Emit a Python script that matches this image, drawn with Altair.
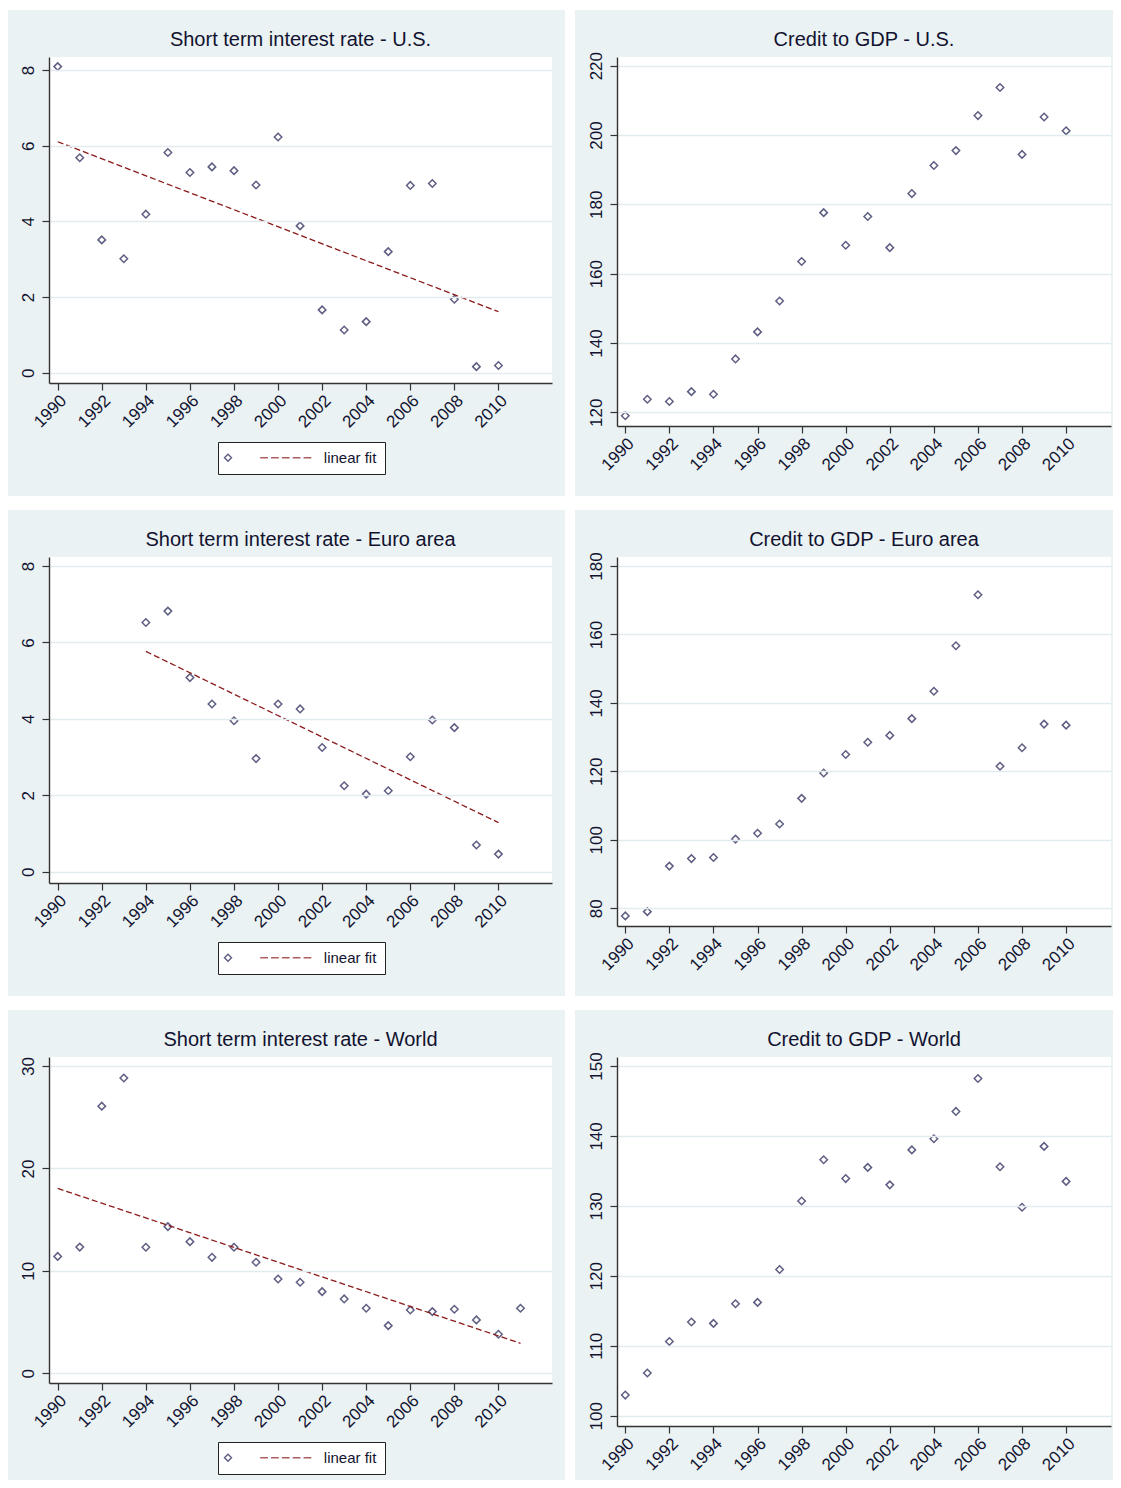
import altair as alt
import pandas as pd

# ---------------- data ----------------
YEARS = list(range(1990, 2011))
EURO_YEARS = list(range(1994, 2011))
WORLD_YEARS = list(range(1990, 2012))

US_RATE = [8.09, 5.68, 3.51, 3.01, 4.19, 5.82, 5.29, 5.44, 5.34, 4.96, 6.23,
           3.88, 1.66, 1.13, 1.35, 3.20, 4.95, 5.00, 1.94, 0.16, 0.19]
EURO_RATE = [6.52, 6.82, 5.08, 4.39, 3.95, 2.96, 4.39, 4.26, 3.25, 2.25, 2.03,
             2.12, 3.01, 3.97, 3.77, 0.70, 0.46]
WORLD_RATE = [11.41, 12.32, 26.08, 28.83, 12.30, 14.32, 12.85, 11.32, 12.30, 10.84,
              9.21, 8.88, 7.97, 7.26, 6.35, 4.65, 6.18, 6.02, 6.25, 5.21, 3.81, 6.35]

US_CREDIT = [119.0, 123.75, 123.1, 125.96, 125.2, 135.4, 143.2, 152.1, 163.5, 177.6,
             168.2, 176.5, 167.5, 183.1, 191.2, 195.5, 205.6, 213.7, 194.4, 205.2, 201.2]
EURO_CREDIT = [77.75, 79.0, 92.3, 94.5, 94.8, 100.2, 101.9, 104.6, 112.1, 119.5,
               124.9, 128.5, 130.5, 135.4, 143.4, 156.7, 171.6, 121.5, 126.9, 133.8, 133.5]
WORLD_CREDIT = [102.95, 106.1, 110.6, 113.4, 113.2, 116.0, 116.2, 120.9, 130.7, 136.6,
                133.9, 135.5, 133.0, 138.0, 139.6, 143.5, 148.2, 135.6, 129.8, 138.5, 133.5]

X_TICKS = list(range(1990, 2011, 2))
TITLES = ["Short term interest rate - U.S.", "Credit to GDP - U.S.",
          "Short term interest rate - Euro area", "Credit to GDP - Euro area",
          "Short term interest rate - World", "Credit to GDP - World"]
LEGEND_KINDS = ["pts", "fit"]

# ---------------- style ----------------
FONT = "Liberation Sans, Arial, sans-serif"
PANEL = "#EAF2F3"
GRID = "#E2ECEE"
NAVY = "#1B1B4F"
MAROON = "#8B1A1A"
TXT = "#121230"
DASH_PATH = ("M-13.6,0L-11.4,0M-10.5,0L-8.3,0M-7.4,0L-5.2,0"
             "M-4.3,0L-2.1,0M-1.2,0L1,0")

LEFT_W, LEFT_H = 503, 326
RIGHT_W, RIGHT_H = 494, 369
LEFT_XDOM = [1989.605, 2012.43]
RIGHT_XDOM = [1989.623, 2012.036]

ONE = alt.Data(values=[{"k": 0}])


def panel(years, values, title, yticks, ydom, left_side, bottom_off, fit):
    W = LEFT_W if left_side else RIGHT_W
    H = LEFT_H if left_side else RIGHT_H
    xdom = LEFT_XDOM if left_side else RIGHT_XDOM
    bg_left = -41 if left_side else -42
    bg_right = W + 13 if left_side else W + 2

    df = pd.DataFrame({"year": years, "value": values, "kind": "pts"})
    base = alt.Chart(df)

    bg = alt.Chart(ONE).mark_rect(color=PANEL).encode(
        x=alt.value(bg_left), x2=alt.value(bg_right),
        y=alt.value(-47), y2=alt.value(bottom_off))
    white = alt.Chart(ONE).mark_rect(color="white").encode(
        x=alt.value(0), x2=alt.value(W), y=alt.value(0), y2=alt.value(H))

    xenc = alt.X("year:Q",
                 scale=alt.Scale(domain=xdom, nice=False, zero=False),
                 axis=alt.Axis(values=X_TICKS, format="d", title=None, grid=False, zindex=1,
                               labelAngle=315, labelAlign="right", labelBaseline="top",
                               labelPadding=2, labelFontSize=17, tickSize=7))
    yenc = alt.Y("value:Q",
                 scale=alt.Scale(domain=ydom, nice=False, zero=False),
                 axis=alt.Axis(values=yticks, title=None, grid=True, zindex=1,
                               labelAngle=270, labelAlign="center", labelBaseline="bottom",
                               labelPadding=5, labelFontSize=17, tickSize=7))

    if fit:
        leg = alt.Legend(orient="none", legendX=169, legendY=385, direction="horizontal",
                         title=None, strokeColor="#222222", fillColor="white", padding=8,
                         labelExpr="datum.value == 'fit' ? 'linear fit' : ''",
                         labelFont=FONT, labelFontSize=15, labelColor=TXT, labelOffset=8.5,
                         symbolSize=49, symbolStrokeWidth=1.4, columnPadding=12.8,
                         symbolOffset=-5.5, symbolFillColor="transparent")
        pts = base.mark_point(filled=False, size=56, strokeWidth=1.5).encode(
            x=xenc, y=yenc,
            color=alt.Color("kind:N", scale=alt.Scale(domain=LEGEND_KINDS, range=[NAVY, MAROON]), legend=leg),
            shape=alt.Shape("kind:N", scale=alt.Scale(domain=LEGEND_KINDS, range=["diamond", DASH_PATH]), legend=leg),
        )
        line = base.transform_regression("year", "value").mark_line(
            color=MAROON, strokeDash=[6, 3], strokeWidth=1.3).encode(x="year:Q", y="value:Q")
        layers = [bg, white, pts, line]
    else:
        pts = base.mark_point(filled=False, size=56, strokeWidth=1.5, shape="diamond",
                              color=NAVY).encode(x=xenc, y=yenc)
        layers = [bg, white, pts]

    ttl = alt.Chart(ONE).mark_text(text=title, font=FONT, fontSize=20, color=TXT,
                                   align="center", baseline="middle").encode(
        x=alt.value(W / 2), y=alt.value(-17))
    layers.append(ttl)
    return alt.layer(*layers).properties(width=W, height=H)


def row(a, b):
    return alt.hconcat(a, b, spacing=10).resolve_scale(
        color="independent", shape="independent").resolve_legend(
        color="independent", shape="independent")


row1 = row(
    panel(YEARS, US_RATE, TITLES[0], [0, 2, 4, 6, 8], [-0.272, 8.344], True, 439, True),
    panel(YEARS, US_CREDIT, TITLES[1], [120, 140, 160, 180, 200, 220], [116.05, 222.5], False, 439, False))
row2 = row(
    panel(EURO_YEARS, EURO_RATE, TITLES[2], [0, 2, 4, 6, 8], [-0.296, 8.236], True, 439, True),
    panel(YEARS, EURO_CREDIT, TITLES[3], [80, 100, 120, 140, 160, 180], [74.8, 182.64], False, 439, False))
row3 = row(
    panel(WORLD_YEARS, WORLD_RATE, TITLES[4], [0, 10, 20, 30], [-0.95, 30.88], True, 423, True),
    panel(YEARS, WORLD_CREDIT, TITLES[5], [100, 110, 120, 130, 140, 150], [98.53, 151.28], False, 423, False))

chart = alt.vconcat(row1, row2, row3, spacing=14).resolve_scale(
    color="independent", shape="independent").resolve_legend(
    color="independent", shape="independent").properties(
    padding={"left": 0, "top": 2, "right": 0, "bottom": 0},
    background="white",
).configure_view(stroke=None).configure_axis(
    labelFont=FONT, labelColor=TXT, domainColor="#333333", domainWidth=1.4,
    tickColor="#333333", tickWidth=1.2, gridColor=GRID, gridWidth=1.5,
)

chart.save("out.html", embed_options={"renderer": "svg", "actions": False})
